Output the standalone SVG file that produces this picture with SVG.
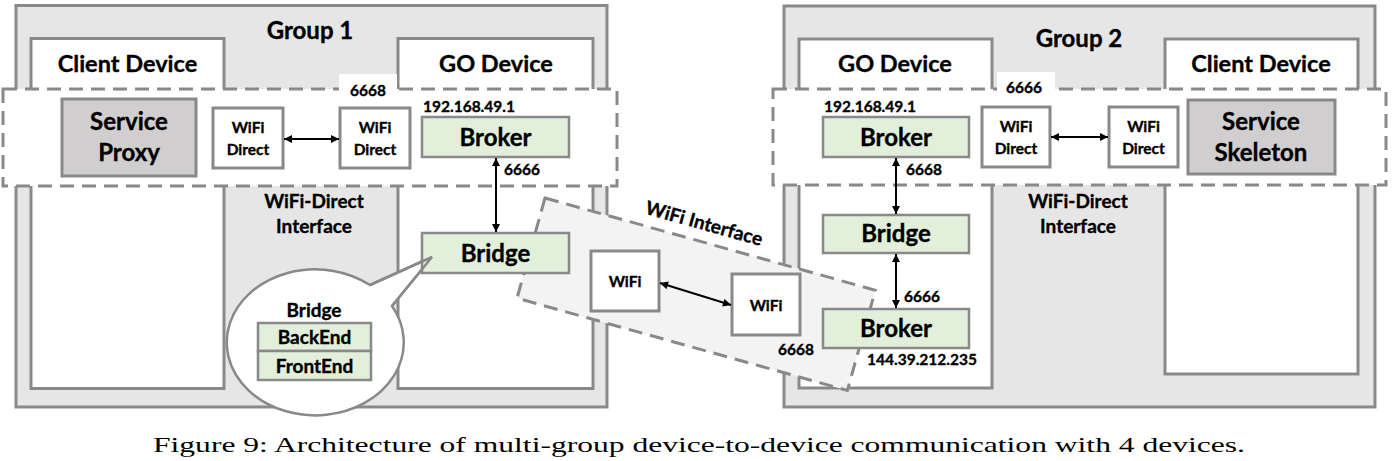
<svg xmlns="http://www.w3.org/2000/svg" width="1392" height="461" viewBox="0 0 1392 461">
<defs>
<marker id="ah" viewBox="0 0 10 10" refX="10" refY="5" markerWidth="4.5" markerHeight="4" orient="auto-start-reverse" markerUnits="strokeWidth"><path d="M0,0 L10,5 L0,10 z" fill="#000"/></marker>
</defs>
<style>
.grp{fill:#e6e6e6;stroke:#898989;stroke-width:3}
.dev{fill:#fff;stroke:#898989;stroke-width:3}
.band{fill:#fff;stroke:#898989;stroke-width:3;stroke-dasharray:14 8}
.wif{fill:#f3f3f3;stroke:#898989;stroke-width:3;stroke-dasharray:14 8}
.box{fill:#fff;stroke:#898989;stroke-width:3}
.svc{fill:#d0cece;stroke:#898989;stroke-width:3}
.grn{fill:#e2efda;stroke:#898989;stroke-width:2.5}
.bub{fill:#fff;stroke:#898989;stroke-width:2.5}
.wbg{fill:#fff;stroke:none}
.t{font-family:Lato,"Liberation Sans",sans-serif;font-weight:bold;fill:#000;stroke:#000;stroke-width:0.35;text-anchor:middle}
.s{text-anchor:start}
.f24{font-size:24px}.f23{font-size:23.5px}.f19{font-size:19px}.f15{font-size:15.5px}
.conn{stroke:#000;stroke-width:2;fill:none;marker-start:url(#ah);marker-end:url(#ah)}
.cap{font-family:"Liberation Serif",serif;font-size:22px;fill:#000}
</style>

<!-- Group 1 background -->
<g id="group1">
<rect class="grp" x="16" y="5.5" width="591" height="401.5"/>
<text class="t f24" x="310" y="39">Group 1</text>
</g>
<g id="g1-client">
<rect class="dev" x="31" y="38.5" width="193" height="350"/>
<text class="t f23" x="127.5" y="72">Client Device</text>
</g>
<g id="g1-go">
<rect class="dev" x="398" y="38.5" width="195" height="350"/>
<text class="t f23" x="496" y="72">GO Device</text>
</g>
<g id="g1-band">
<rect class="band" x="3" y="89" width="614" height="97"/>
<rect class="wbg" x="339" y="74" width="58" height="24"/>
<text class="t f15" x="368" y="96">6668</text>
</g>
<g id="g1-wdi">
<text class="t f19" x="314" y="208">WiFi-Direct</text>
<text class="t f19" x="314" y="233">Interface</text>
</g>

<!-- Group 2 background -->
<g id="group2">
<rect class="grp" x="784" y="6" width="591" height="401"/>
<text class="t f24" x="1079" y="47">Group 2</text>
</g>
<g id="g2-go">
<rect class="dev" x="799" y="39" width="193" height="349"/>
<text class="t f23" x="895" y="72">GO Device</text>
</g>
<g id="g2-client">
<rect class="dev" x="1165" y="39" width="193" height="335"/>
<text class="t f23" x="1261" y="72">Client Device</text>
</g>
<g id="g2-band">
<rect class="band" x="773" y="89" width="613" height="96"/>
<rect class="wbg" x="997" y="72" width="58" height="25"/>
<text class="t f15" x="1024" y="93">6666</text>
</g>
<g id="g2-wdi">
<text class="t f19" x="1078" y="208">WiFi-Direct</text>
<text class="t f19" x="1078" y="233">Interface</text>
</g>

<!-- Group 1 nodes -->
<g id="service-proxy">
<rect class="svc" x="62" y="99" width="134" height="77"/>
<text class="t f24" x="129" y="130">Service</text>
<text class="t f24" x="129" y="161">Proxy</text>
</g>
<g id="g1-wifidirect-client">
<rect class="box" x="213" y="108" width="70" height="60"/>
<text class="t f15" x="248" y="133">WiFi</text>
<text class="t f15" x="248" y="155">Direct</text>
</g>
<g id="g1-wifidirect-go">
<rect class="box" x="340" y="108" width="70" height="60"/>
<text class="t f15" x="375" y="133">WiFi</text>
<text class="t f15" x="375" y="155">Direct</text>
</g>
<g id="g1-broker">
<text class="t f15 s" x="423" y="112">192.168.49.1</text>
<rect class="grn" x="422" y="117" width="147" height="40"/>
<text class="t f24" x="495.5" y="146">Broker</text>
<text class="t f15 s" x="504" y="175">6666</text>
</g>

<!-- Group 2 nodes -->
<g id="g2-broker">
<text class="t f15 s" x="824" y="112">192.168.49.1</text>
<rect class="grn" x="823" y="117" width="146" height="40"/>
<text class="t f24" x="896" y="146">Broker</text>
<text class="t f15 s" x="906" y="175">6668</text>
</g>
<g id="g2-wifidirect-go">
<rect class="box" x="982" y="107" width="68" height="60"/>
<text class="t f15" x="1016" y="132">WiFi</text>
<text class="t f15" x="1016" y="154">Direct</text>
</g>
<g id="g2-wifidirect-client">
<rect class="box" x="1109" y="107" width="69" height="60"/>
<text class="t f15" x="1143.5" y="132">WiFi</text>
<text class="t f15" x="1143.5" y="154">Direct</text>
</g>
<g id="service-skeleton">
<rect class="svc" x="1188" y="100" width="147" height="74"/>
<text class="t f24" x="1261" y="130">Service</text>
<text class="t f24" x="1261" y="161">Skeleton</text>
</g>

<!-- WiFi interface -->
<g id="wifi-interface">
<rect class="wif" x="0" y="0" width="343" height="104" transform="translate(545,198) rotate(15.6)"/>
<text class="t f19" x="0" y="6" transform="translate(704,224) rotate(15.6)">WiFi Interface</text>
</g>
<g id="wifi-1">
<rect class="box" x="591" y="251" width="68" height="60"/>
<text class="t f15" x="625" y="287">WiFi</text>
</g>
<g id="wifi-2">
<rect class="box" x="732" y="274" width="68" height="61"/>
<text class="t f15" x="766" y="311">WiFi</text>
<text class="t f15 s" x="778" y="355">6668</text>
</g>

<!-- Bubble -->
<g id="bubble">
<path class="bub" d="M370,285 A88.5,73 0 1,0 392,306 L432,257 Z"/>
<text class="t f19" x="314" y="317">Bridge</text>
<rect class="grn" x="258" y="323" width="113" height="28"/>
<text class="t f19" x="314.5" y="344">BackEnd</text>
<rect class="grn" x="258" y="351" width="113" height="29"/>
<text class="t f19" x="314.5" y="373">FrontEnd</text>
</g>

<g id="g1-bridge">
<rect class="grn" x="422" y="233" width="147" height="40"/>
<text class="t f24" x="495.5" y="262">Bridge</text>
</g>
<path d="M370,285 L432,257 L392,306" fill="none" stroke="#898989" stroke-width="2.5"/>

<g id="g2-bridge">
<rect class="grn" x="823" y="215" width="146" height="38"/>
<text class="t f24" x="896" y="242">Bridge</text>
</g>
<g id="g2-broker-public">
<rect class="grn" x="823" y="309" width="146" height="39"/>
<text class="t f24" x="896" y="337">Broker</text>
<text class="t f15 s" x="904" y="302">6666</text>
<text class="t f15 s" x="867" y="365">144.39.212.235</text>
</g>

<!-- Connectors -->
<g id="connectors">
<line class="conn" x1="284" y1="139" x2="339" y2="139"/>
<line class="conn" x1="496" y1="158" x2="496" y2="232"/>
<line class="conn" x1="660" y1="283" x2="731" y2="305"/>
<line class="conn" x1="896" y1="158" x2="896" y2="214"/>
<line class="conn" x1="896" y1="254" x2="896" y2="308"/>
<line class="conn" x1="1051" y1="137" x2="1108" y2="137"/>
</g>

<text class="cap" x="153" y="452" textLength="1092" lengthAdjust="spacingAndGlyphs">Figure 9: Architecture of multi-group device-to-device communication with 4 devices.</text>
</svg>
